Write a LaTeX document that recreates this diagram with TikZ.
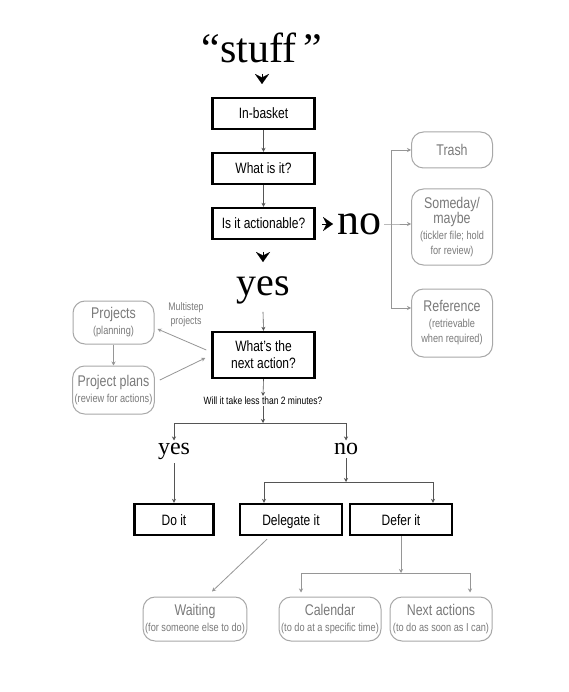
\documentclass[tikz,border=0pt]{standalone}
\usepackage{fontspec}
\setmainfont{Liberation Serif}
\newfontfamily\cond[FakeStretch=0.8]{Liberation Sans}
\usetikzlibrary{arrows.meta,calc}
\definecolor{boxgray}{HTML}{A8A8A8}
\definecolor{txtgray}{HTML}{7A7A7A}
\definecolor{linegray}{HTML}{969696}
\definecolor{darkline}{HTML}{555555}
\newcommand{\subf}{\cond\fontsize{11.5}{13}\selectfont}
\tikzset{
  blackbox/.style={draw=black, line width=2.4pt, minimum width=102pt, minimum height=31pt, inner sep=0pt, align=center, font=\cond\fontsize{15}{17}\selectfont},
  oneline/.style={text height=11pt, text depth=0pt},
  graybox/.style={draw=boxgray, line width=1pt, rounded corners=12pt, minimum width=81pt, inner sep=2pt, align=center, text=txtgray, font=\cond\fontsize{15.5}{17}\selectfont},
  bigword/.style={font=\fontsize{44}{44}\selectfont, inner sep=0pt},
  midword/.style={font=\fontsize{24}{24}\selectfont, inner sep=0pt},
  darrow/.style={draw=darkline, line width=0.6pt, -{Stealth[length=4pt,width=4pt]}},
  garrow/.style={draw=linegray, line width=0.8pt, -{Stealth[length=4pt,width=4pt]}},
  gline/.style={draw=linegray, line width=0.8pt},
  dline/.style={draw=darkline, line width=0.6pt},
  chev/.style={line width=0.1pt, -{Stealth[length=10pt,width=14pt,inset=3.5pt]}},
}
\begin{document}
\begin{tikzpicture}[x=1pt,y=-1pt]
\useasboundingbox[fill=white] (0,0) rectangle (568,692);
% top chain
\node[bigword, font=\fontsize{42}{42}\selectfont, anchor=base] (stuff) at (262,63) {“stuff\,”};
\node[blackbox, oneline] (inbasket) at (263.5,113.5) {In-basket};
\node[blackbox, oneline] (whatis) at (263.5,168.5) {What is it?};
\node[blackbox, oneline] (actionable) at (263.5,223.5) {Is it actionable?};
\coordinate (c1) at (262,74);
\draw[chev] (c1) -- ($(c1)+(0,10)$);
\draw[darrow] (inbasket) -- (whatis);
\draw[darrow] (whatis) -- (actionable);
% no branch
\coordinate (c2) at (322,224);
\draw[chev] (c2) -- ($(c2)+(11,0)$);
\node[bigword, anchor=base west] (no) at (337,235) {no};
\node[graybox, minimum height=36pt] (trash) at (452,150) {Trash};
\node[graybox, minimum height=76pt] (someday) at (452,227) {Someday/\\[-2pt]maybe\\[-1pt]{\subf(tickler file; hold}\\[-2pt]{\subf for review)}};
\node[graybox, minimum height=68pt] (reference) at (452,323) {Reference\\[-1pt]{\subf(retrievable}\\[-2pt]{\subf when required)}};
\coordinate (branch) at (391,224);
\coordinate (n1) at ($(no.east |- branch)+(3,0)$);
\draw[garrow] (n1) -- (branch) -- (branch -| someday.west);
\draw[garrow] (branch) |- (trash.west);
\draw[garrow] (branch) |- ($(reference.west)+(0,-15)$);
% yes branch
\coordinate (c3) at (263,252);
\draw[chev] (c3) -- ($(c3)+(0,10)$);
\node[bigword, font=\fontsize{40}{40}\selectfont, anchor=base] (yes) at (263,295) {yes};
\node[blackbox, minimum height=46pt] (next) at (263.5,355) {What’s the\\next action?};
\draw[darrow] (yes.south) ++(0,8) coordinate (y1) -- (next.north);
% projects
\node[graybox, minimum height=43pt] (projects) at (113.5,322.5) {Projects\\[-1pt]{\subf(planning)}};
\node[graybox, minimum height=48pt] (plans) at (113.5,390) {Project plans\\[-1pt]{\subf(review for actions)}};
\node[text=txtgray, align=center, font=\cond\fontsize{11}{14}\selectfont] (multi) at (186,315) {Multistep\\projects};
\draw[garrow] (projects) -- (plans);
\draw[garrow] ($(next.west)+(-5,-5)$) -- ($(projects.east)+(3,6.5)$);
\draw[garrow] ($(plans.east)+(5,-10)$) -- ($(next.west)+(-6,3)$);
% two minutes
\node[font=\cond\fontsize{10.6}{12}\selectfont, inner sep=1pt] (will) at (263,401) {Will it take less than 2 minutes?};
\draw[darrow] (next.south) -- (will.north);
\coordinate (b1) at (263,423);
\draw[darrow] (will.south) -- (b1);
\node[midword, anchor=base] (yes2) at (174,454) {yes};
\node[midword, anchor=base] (no2) at (346,454) {no};
\draw[dline] (174,423) coordinate (b1l) -- (346,423) coordinate (b1r);
\draw[darrow] (b1l) -- ($(yes2.north)+(0,-2)$);
\draw[darrow] (b1r) -- ($(no2.north)+(0,-2)$);
\node[blackbox, oneline, minimum width=79pt] (doit) at (174,519.5) {Do it};
\node[blackbox, oneline] (delegate) at (291,519.5) {Delegate it};
\node[blackbox, oneline] (defer) at (401,519.5) {Defer it};
\draw[darrow] ($(yes2.south)+(0,4)$) -- (doit.north);
\coordinate (b2) at (346,482);
\draw[darrow] ($(no2.south)+(0,4)$) -- (b2);
\draw[dline] (264,482) coordinate (b2l) -- (433,482) coordinate (b2r);
\draw[darrow] (b2l) -- (b2l |- delegate.north);
\draw[darrow] (b2r) -- (b2r |- defer.north);
% bottom
\node[graybox, minimum width=102pt, minimum height=44pt] (waiting) at (195,619) {Waiting\\[-1pt]{\subf(for someone else to do)}};
\node[graybox, minimum width=102pt, minimum height=44pt] (calendar) at (330,619) {Calendar\\[-1pt]{\subf(to do at a specific time)}};
\node[graybox, minimum width=102pt, minimum height=44pt] (nextact) at (441,619) {Next actions\\[-1pt]{\subf(to do as soon as I can)}};
\draw[garrow] ($(delegate.south)+(-24,3)$) -- ($(waiting.north)+(17,-5)$);
\coordinate (b3) at (401,573);
\draw[garrow] (defer.south) -- (b3);
\draw[gline] (301,573) coordinate (b3l) -- (470,573) coordinate (b3r);
\draw[garrow] (b3l) -- ($(b3l |- calendar.north)+(0,-4)$);
\draw[garrow] (b3r) -- ($(b3r |- nextact.north)+(0,-4)$);
\end{tikzpicture}
\end{document}
